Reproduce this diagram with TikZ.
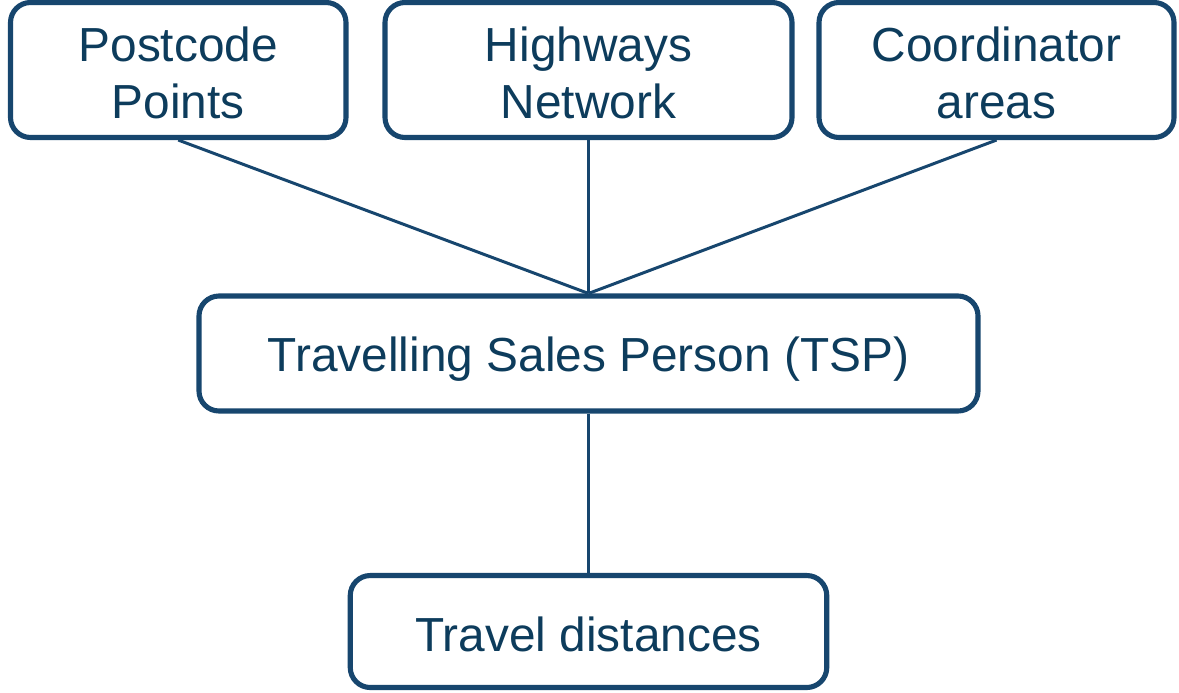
\documentclass[tikz,border=0pt]{standalone}
\usepackage{fontspec}
\setmainfont{Liberation Sans}
\usepackage{xcolor}
\usepackage{tikz}
\usetikzlibrary{shapes.geometric, arrows}
\definecolor{boxblue}{HTML}{17466E}
\definecolor{textblue}{HTML}{0D3C5C}
\tikzstyle{databox} = [draw=boxblue, line width=1.45pt, rounded corners=0.2cm, fill=white, text=textblue, align=center, inner sep=0pt, text depth=0pt, text height=27.8pt, font=\fontsize{13.6}{16.2}\selectfont]
\tikzstyle{link} = [draw=boxblue, line width=0.85pt]

\begin{document}
\begin{tikzpicture}
				\useasboundingbox (0,0) rectangle (11.79,6.92);
				% Inputs:
				\node [databox, minimum width=3.355cm, minimum height=1.35cm] (postcode) at (1.7825,6.22) {Postcode\\Points};
				\node [databox, minimum width=4.07cm, minimum height=1.35cm] (highways) at (5.885,6.22) {Highways\\Network};
				\node [databox, minimum width=3.55cm, minimum height=1.35cm] (coordinator) at (9.965,6.22) {Coordinator\\areas};
				
				% Solver and result:
				% (text height puts the lines a little below the middle of the box)
				\node [databox, minimum width=7.79cm, minimum height=1.15cm, text height=10.5pt] (tsp) at (5.885,3.385) {Travelling Sales Person (TSP)};
				\node [databox, minimum width=4.765cm, minimum height=1.12cm, text height=11.6pt] (travel) at (5.885,0.605) {Travel distances};
				
				% Connectors:
				\begin{scope}[link]
				\draw (postcode.south) -- (tsp.north);
				\draw (highways.south) -- (tsp.north);
				\draw (coordinator.south) -- (tsp.north);
				\draw (tsp.south) -- (travel.north);
				\end{scope}
				\end{tikzpicture}
\end{document}
